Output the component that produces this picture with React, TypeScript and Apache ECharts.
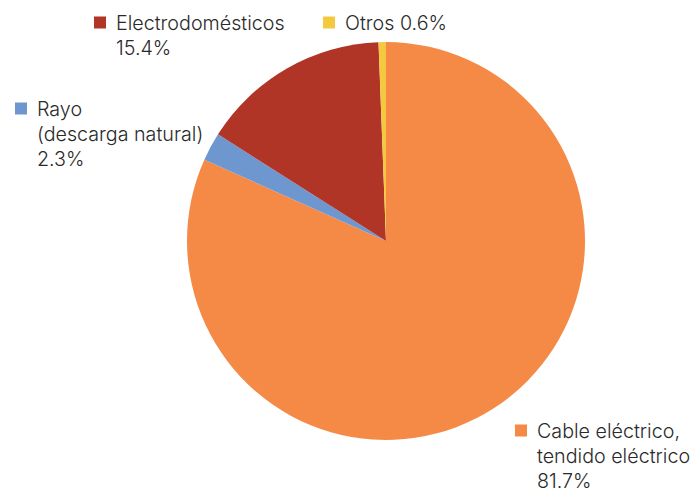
import React, { useEffect, useRef } from "react";
import * as echarts from "echarts";

const categories = ["Cable eléctrico,\ntendido eléctrico", "Rayo\n(descarga natural)", "Electrodomésticos", "Otros"];
const values = [81.7, 2.3, 15.4, 0.6];
const percentSeparators = ["\n", "\n", "\n", " "];
const colors = ["#F58A47", "#6F97CF", "#B03527", "#F4C93F"];
const labelPositions = [
  [515, 418],
  [15, 96],
  [94, 10],
  [323, 10],
];

export default function App() {
  const ref = useRef<HTMLDivElement>(null);
  useEffect(() => {
    if (!ref.current) return;
    const chart = echarts.init(ref.current, null, { renderer: "svg" });
    const rich: any = {
      t: { fontSize: 19.7, fontFamily: "Inter", fontWeight: 300, color: "#2a2a2a", lineHeight: 25 },
      gap: { width: 10, height: 12 },
      ind: { width: 22, height: 12 },
    };
    colors.forEach((c, i) => {
      rich["sq" + i] = { width: 12, height: 12, backgroundColor: c };
    });
    chart.setOption({
      animation: false,
      series: [
        {
          type: "pie",
          center: [386, 241],
          radius: 199,
          startAngle: 90,
          clockwise: true,
          silent: true,
          data: categories.map((name, i) => ({
            name,
            value: values[i],
            itemStyle: { color: colors[i] },
          })),
          labelLine: { show: false },
          label: {
            show: true,
            overflow: "none",
            formatter: (p: any) => {
              const i = p.dataIndex;
              const full = categories[i] + percentSeparators[i] + values[i].toFixed(1) + "%";
              const lines = full.split("\n");
              return lines
                .map((l, k) => (k === 0 ? `{sq${i}|}{gap|}{t|${l}}` : `{ind|}{t|${l}}`))
                .join("\n");
            },
            rich,
          },
          labelLayout: (params: any) => {
            const pos = labelPositions[params.dataIndex];
            return { x: pos[0], y: pos[1], align: "left", verticalAlign: "top" };
          },
        },
      ],
    });
    return () => chart.dispose();
  }, []);
  return (
    <div
      ref={ref}
      style={{ position: "fixed", left: 0, top: 0, width: 692, height: 492, background: "#fff" }}
    />
  );
}
